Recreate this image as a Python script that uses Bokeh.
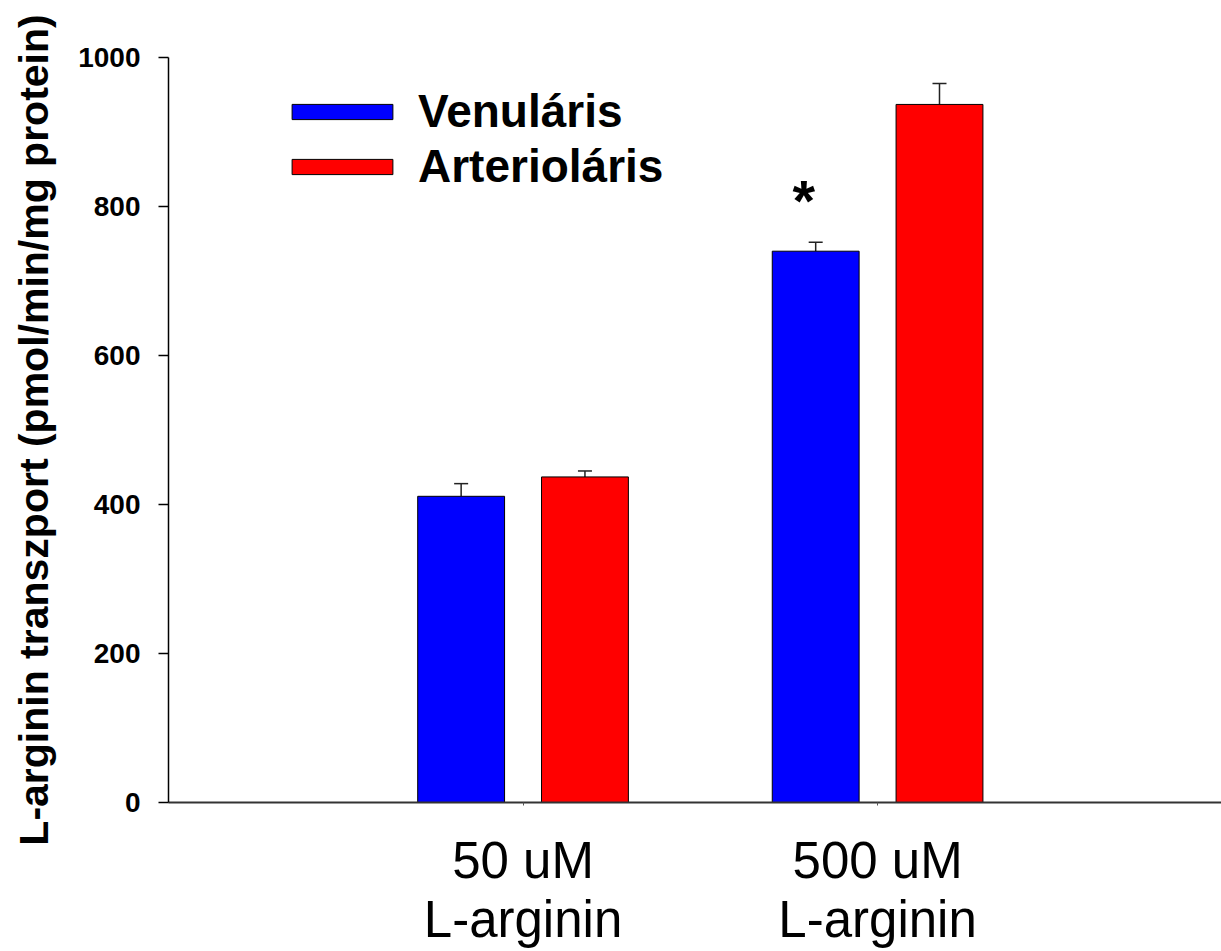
from bokeh.plotting import figure
from bokeh.models import ColumnDataSource, Whisker, TeeHead, FixedTicker, Legend, LegendItem, Range1d
from bokeh.transform import dodge
from bokeh.core.properties import value
from bokeh.embed import file_html
from bokeh.resources import INLINE

# ---- data ----
groups = [1, 2]
group_labels = ["50 uM\nL-arginin", "500 uM\nL-arginin"]
venularis = [411, 740]
venularis_err = [17, 12]
arteriolaris = [437, 937]
arteriolaris_err = [8, 28]
series_names = ["Venuláris", "Arterioláris"]
y_ticks = [0, 200, 400, 600, 800, 1000]
star_group = [2]
star_y = [808]

src_v = ColumnDataSource(dict(x=groups, top=venularis,
                              upper=[v + e for v, e in zip(venularis, venularis_err)]))
src_a = ColumnDataSource(dict(x=groups, top=arteriolaris,
                              upper=[v + e for v, e in zip(arteriolaris, arteriolaris_err)]))

FONT = "Liberation Sans"

p = figure(width=1221, height=951, output_backend="svg", toolbar_location=None,
           x_range=Range1d(0, 2.97), y_range=Range1d(0, 1000),
           min_border_left=168, min_border_right=0, min_border_top=57, min_border_bottom=149)
p.outline_line_color = None
p.xgrid.grid_line_color = None
p.ygrid.grid_line_color = None
p.background_fill_color = "white"
p.border_fill_color = "white"

off = 0.1746
bw = 0.245
rv = p.vbar(x=dodge("x", -off), top="top", width=bw, source=src_v,
            fill_color="#0000FF", line_color="black", line_width=1)
ra = p.vbar(x=dodge("x", off), top="top", width=bw, source=src_a,
            fill_color="#FF0000", line_color="black", line_width=1)

for src, o in ((src_v, -off), (src_a, off)):
    w = Whisker(base=dodge("x", o), lower="top", upper="upper", source=src,
                dimension="height", line_color="#222222", line_width=1.5,
                upper_head=TeeHead(size=14, line_color="#222222", line_width=1.5),
                lower_head=None)
    p.add_layout(w)

p.text(x=dodge("x", -off), y="y", text=value("*"),
       source=ColumnDataSource(dict(x=star_group, y=star_y)),
       text_font=value(FONT), text_font_style="bold", text_font_size="58px",
       x_offset=-12, text_align="center", text_baseline="middle", text_color="black")

# axes
p.yaxis.ticker = FixedTicker(ticks=y_ticks)
p.yaxis.minor_tick_line_color = None
p.yaxis.major_tick_out = 10
p.yaxis.major_tick_in = 0
p.yaxis.major_label_text_font = FONT
p.yaxis.major_label_text_font_style = "bold"
p.yaxis.major_label_text_font_size = "28px"
p.yaxis.major_label_text_color = "black"
p.yaxis.major_label_standoff = 18
p.yaxis.axis_label = "L-arginin transzport (pmol/min/mg protein)"
p.yaxis.axis_label_text_font = FONT
p.yaxis.axis_label_text_font_style = "bold"
p.yaxis.axis_label_text_font_size = "41px"
p.yaxis.axis_label_text_color = "black"
p.yaxis.axis_label_standoff = 18
p.yaxis.axis_line_color = "black"
p.yaxis.axis_line_width = 1.5
p.yaxis.major_tick_line_color = "black"
p.yaxis.major_tick_line_width = 1.5

p.xaxis.ticker = FixedTicker(ticks=groups)
p.xaxis.major_label_overrides = {g: l for g, l in zip(groups, group_labels)}
p.xaxis.minor_tick_line_color = None
p.xaxis.major_tick_out = 3
p.xaxis.major_tick_in = 0
p.xaxis.major_label_text_font = FONT
p.xaxis.major_label_text_font_size = "51px"
p.xaxis.major_label_text_line_height = 1.05
p.xaxis.major_label_text_color = "black"
p.xaxis.major_label_standoff = 26
p.xaxis.axis_line_color = "#333333"
p.xaxis.axis_line_width = 2
p.xaxis.major_tick_line_color = "#555555"

legend = Legend(items=[LegendItem(label=series_names[0], renderers=[rv]),
                       LegendItem(label=series_names[1], renderers=[ra])],
                location=(111, 609), orientation="vertical",
                glyph_width=126, glyph_height=19,
                label_text_font=FONT, label_text_font_style="bold",
                label_text_font_size="46px", label_text_color="black",
                label_standoff=13, spacing=1, padding=0, margin=0,
                border_line_color=None, background_fill_alpha=0)
p.add_layout(legend)

open("out.html", "w").write(file_html(p, INLINE))
